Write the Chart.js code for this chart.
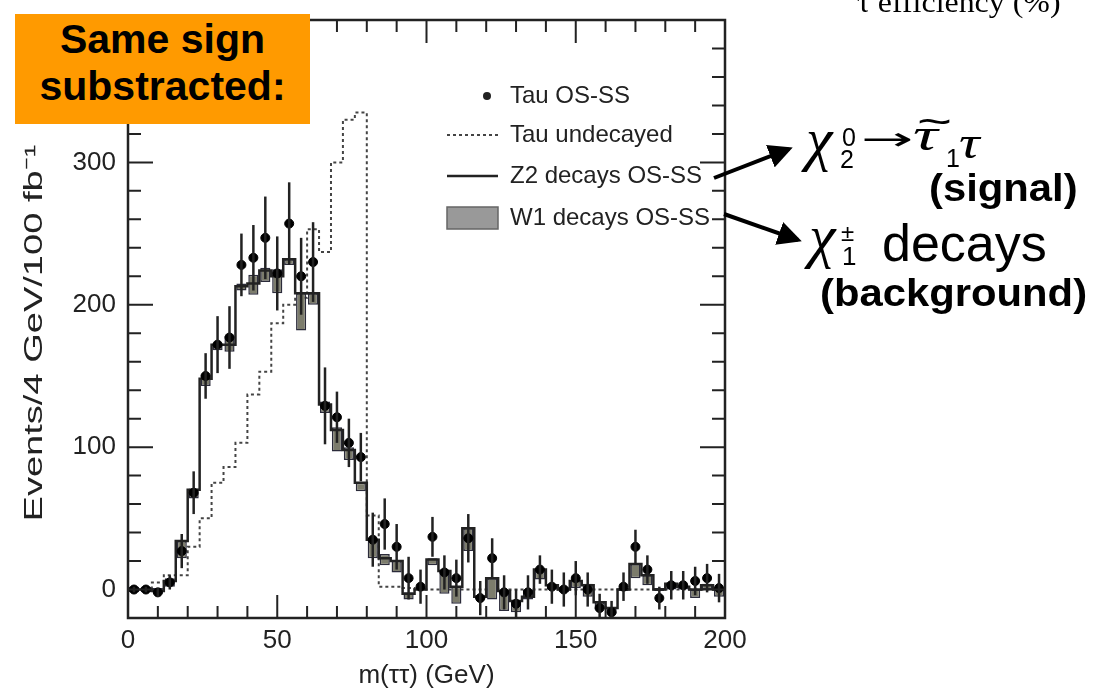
<!DOCTYPE html>
<html>
<head>
<meta charset="utf-8">
<script src="https://cdn.jsdelivr.net/npm/chart.js@4.4.1/dist/chart.umd.min.js"></script>
<style>
  body { margin: 0; background: #fff; }
  #wrap { position: relative; width: 1106px; height: 691px; overflow: hidden; font-family: "Liberation Sans", Arial, sans-serif; }
  #chart { position: absolute; left: 0; top: 0; }
  .note { position: absolute; white-space: nowrap; color: #000; line-height: 1; }
  .serif { font-family: "Liberation Serif", "DejaVu Serif", serif; font-style: italic; }
  #badge { position: absolute; left: 15px; top: 14px; width: 295px; height: 110px; background: #ff9a00;
           font-weight: bold; font-size: 41px; line-height: 47px; text-align: center; padding-top: 2px; box-sizing: border-box; }
  #arrows { position: absolute; left: 0; top: 0; }
</style>
</head>
<body>
<div id="wrap">
  <canvas id="chart" width="1106" height="691"></canvas>

  <div id="badge">Same sign<br>substracted:</div>

  <div class="note" style="left:857px; top:-14px; font: 29px 'Liberation Serif', serif; transform:scaleX(1.1); transform-origin:left;">τ efficiency (%)</div>

  <!-- signal label -->
  <div class="note serif" style="left:806px; top:109px; font-size:60px;">χ</div>
  <div class="note" style="left:842px; top:125px; font-size:25px;">0</div>
  <div class="note" style="left:840px; top:147px; font-size:25px;">2</div>
  <div class="note" style="left:861px; top:123px; font-size:32px; font-family:'DejaVu Sans'; transform:scaleX(1.95); transform-origin:left;">→</div>
  <div class="note serif" style="left:913px; top:112px; font-size:46px; transform:scaleX(1.5); transform-origin:left;">τ</div>
  <div class="note" style="left:917px; top:101px; font-size:40px; transform:scaleX(1.5); transform-origin:left;">~</div>
  <div class="note" style="left:946px; top:146px; font-size:25px;">1</div>
  <div class="note serif" style="left:959px; top:120px; font-size:46px; transform:scaleX(1.25); transform-origin:left;">τ</div>
  <div class="note" style="left:929px; top:169px; font-size:38px; font-weight:bold; transform:scaleX(1.1); transform-origin:left;">(signal)</div>

  <!-- background label -->
  <div class="note serif" style="left:809px; top:206px; font-size:60px;">χ</div>
  <div class="note" style="left:841px; top:221px; font-size:24px;">±</div>
  <div class="note" style="left:842px; top:243px; font-size:26px;">1</div>
  <div class="note" style="left:882px; top:217px; font-size:52px;">decays</div>
  <div class="note" style="left:820px; top:274px; font-size:38px; font-weight:bold; transform:scaleX(1.1); transform-origin:left;">(background)</div>

  <svg id="arrows" width="1106" height="691">
    <defs>
      <marker id="head" markerWidth="6" markerHeight="6" refX="5" refY="3" orient="auto" markerUnits="strokeWidth">
        <path d="M0,0 L6,3 L0,6 z" fill="#000"/>
      </marker>
    </defs>
    <line x1="714" y1="178" x2="789" y2="149" stroke="#000" stroke-width="4" marker-end="url(#head)"/>
    <line x1="724" y1="214" x2="798" y2="240" stroke="#000" stroke-width="4" marker-end="url(#head)"/>
  </svg>
</div>

<script>
// m(tau tau) bins, 4 GeV wide (lower edges)
const binLow = [0, 4, 8, 12, 16, 20, 24, 28, 32, 36, 40, 44, 48, 52, 56, 60, 64, 68, 72, 76,
  80, 84, 88, 92, 96, 100, 104, 108, 112, 116, 120, 124, 128, 132, 136, 140, 144, 148, 152, 156,
  160, 164, 168, 172, 176, 180, 184, 188, 192, 196];
const binWidth = 4;

const z2DecaysOsSs = [0, 0, -1, 6, 34, 70, 148, 172, 172, 213,
  215, 224, 220, 232, 208, 208, 130, 112, 98, 75,
  35, 22, 20, -3, 0, 21, 13, 2, 43, -5,
  8, -1, -8, -5, 14, 3, 0, 6, 3, -9,
  -13, 0, 18, 10, 0, 4, 2, 0, 3, 0];

const w1Low = [-2, -2, -3, 2, 22, 64, 143, 168, 167, 210,
  207, 216, 208, 228, 182, 200, 124, 97, 91, 69,
  22, 17, 12, -7, 0, 17, -3, -10, 27, -7,
  -7, -15, -16, -7, 7, 0, -2, 1, -5, -14,
  -17, -1, 8, 3, -1, 0, 0, -6, 0, -5];
const w1High = [2, 2, 1, 8, 34, 71, 151, 173, 178, 215,
  221, 226, 225, 232, 208, 208, 132, 114, 100, 75,
  35, 25, 20, -2, 2, 22, 13, 2, 43, -4,
  8, -1, -8, 0, 14, 4, 2, 7, 4, -9,
  -13, 1, 18, 10, 1, 5, 3, 0, 4, 1];

const tauOsSs = [0, 0, -2, 5, 27, 68, 150, 172, 177, 228,
  233, 247, 222, 257, 220, 230, 129, 121, 103, 93,
  35, 46, 30, 8, 2, 37, 12, 8, 36, -6,
  22, -2, -10, -2, 14, 2, 0, 8, 0, -13,
  -16, 2, 30, 14, -6, 3, 3, 6, 8, 1];
const tauErr = [2, 2, 3, 5, 12, 15, 16, 20, 22, 22,
  23, 29, 26, 29, 27, 28, 27, 18, 17, 17,
  19, 18, 16, 15, 12, 14, 12, 13, 17, 12,
  14, 12, 10, 12, 10, 12, 12, 12, 12, 10,
  8, 10, 12, 10, 8, 10, 10, 10, 10, 10];

const tauUndecayed = [0, 0, 5, 10, 10, 30, 50, 75, 86, 103,
  137, 153, 187, 200, 205, 253, 237, 300, 330, 335,
  52, 2, 2, 1, 0, 0, 0, 0, 0, 0,
  0, 0, 0, 0, 0, 0, 0, 0, 0, 0,
  0, 0, 0, 0, 0, 0, 0, 0, 0, 0];

const xTickLabels = [0, 50, 100, 150, 200];
const yTickLabels = [0, 100, 200, 300];
const legendLabels = ["Tau OS-SS", "Tau undecayed", "Z2 decays OS-SS", "W1 decays OS-SS"];
const yTitle = "Events/4 GeV/100 fb⁻¹";

const ink = "#222";

function stepPoints(values) {
  const pts = values.map((v, i) => ({ x: binLow[i], y: v }));
  pts.push({ x: binLow[binLow.length - 1] + binWidth, y: values[values.length - 1] });
  return pts;
}

const centers = binLow.map((x) => x + binWidth / 2);

const framePlugin = {
  id: "frame",
  afterDatasetsDraw(chart) {
    const { ctx, scales: { x, y }, chartArea } = chart;
    ctx.save();
    ctx.beginPath();
    ctx.rect(chartArea.left, chartArea.top, chartArea.width, chartArea.height);
    ctx.clip();
    ctx.strokeStyle = ink;
    ctx.lineWidth = 2.5;
    tauOsSs.forEach((v, i) => {
      const px = x.getPixelForValue(centers[i]);
      ctx.beginPath();
      ctx.moveTo(px, y.getPixelForValue(v - tauErr[i]));
      ctx.lineTo(px, y.getPixelForValue(v + tauErr[i]));
      ctx.stroke();
    });
    ctx.restore();
  },
  afterDraw(chart) {
    const { ctx, scales: { x, y }, chartArea: a } = chart;
    ctx.save();
    ctx.strokeStyle = ink;
    ctx.lineWidth = 2.5;
    ctx.strokeRect(a.left, a.top, a.width, a.height);
    ctx.lineWidth = 2;
    ctx.beginPath();
    for (let v = 10; v < 200; v += 10) {
      const len = v % 50 === 0 ? 23 : 12;
      const px = x.getPixelForValue(v);
      ctx.moveTo(px, a.bottom); ctx.lineTo(px, a.bottom - len);
      ctx.moveTo(px, a.top); ctx.lineTo(px, a.top + len);
    }
    for (let v = 0; v < 400; v += 20) {
      const len = v % 100 === 0 ? 25 : 13;
      const py = y.getPixelForValue(v);
      ctx.moveTo(a.left, py); ctx.lineTo(a.left + len, py);
      ctx.moveTo(a.right, py); ctx.lineTo(a.right - len, py);
    }
    ctx.stroke();

    // y axis title, stretched along its length like the original
    ctx.save();
    ctx.font = "26px 'Liberation Sans', Arial, sans-serif";
    ctx.fillStyle = ink;
    ctx.textAlign = "center";
    ctx.textBaseline = "middle";
    ctx.translate(35, 333);
    ctx.rotate(-Math.PI / 2);
    const w = ctx.measureText(yTitle).width;
    ctx.scale(377 / w, 1);
    ctx.fillText(yTitle, 0, 0);
    ctx.restore();

    // legend
    const lx = 447, lw = 51, tx = 510;
    const rows = [96, 135, 176, 218];
    ctx.font = "24px 'Liberation Sans', Arial, sans-serif";
    ctx.fillStyle = ink;
    ctx.textBaseline = "middle";
    legendLabels.forEach((t, i) => ctx.fillText(t, tx, rows[i]));
    ctx.beginPath();
    ctx.arc(487, rows[0], 4, 0, Math.PI * 2);
    ctx.fill();
    ctx.setLineDash([3, 3]);
    ctx.strokeStyle = "#444";
    ctx.beginPath(); ctx.moveTo(lx, rows[1]); ctx.lineTo(lx + lw, rows[1]); ctx.stroke();
    ctx.setLineDash([]);
    ctx.strokeStyle = ink;
    ctx.lineWidth = 2.5;
    ctx.beginPath(); ctx.moveTo(lx, rows[2]); ctx.lineTo(lx + lw, rows[2]); ctx.stroke();
    ctx.fillStyle = "#999";
    ctx.fillRect(lx, rows[3] - 11, lw, 22);
    ctx.strokeStyle = "#666";
    ctx.lineWidth = 1.5;
    ctx.strokeRect(lx, rows[3] - 11, lw, 22);
    ctx.restore();
  },
};

const tickFont = { family: "'Liberation Sans', Arial, sans-serif", size: 26 };

new Chart(document.getElementById("chart"), {
  type: "scatter",
  data: {
    datasets: [
      {
        type: "scatter",
        label: legendLabels[0],
        data: tauOsSs.map((v, i) => ({ x: centers[i], y: v })),
        backgroundColor: "#000",
        borderColor: "#000",
        pointRadius: 4.5,
        order: 0,
      },
      {
        type: "line",
        label: legendLabels[2],
        data: stepPoints(z2DecaysOsSs),
        stepped: true,
        borderColor: ink,
        borderWidth: 2.5,
        pointRadius: 0,
        fill: false,
        order: 1,
      },
      {
        type: "bar",
        label: legendLabels[3],
        data: w1Low.map((lo, i) => ({ x: centers[i], y: [lo, w1High[i]] })),
        backgroundColor: "#7c7c6c",
        borderColor: "#2b2b3a",
        borderWidth: 1.5,
        borderSkipped: false,
        categoryPercentage: 1,
        barPercentage: 0.85,
        order: 2,
      },
      {
        type: "line",
        label: legendLabels[1],
        data: stepPoints(tauUndecayed),
        stepped: true,
        borderColor: "#444",
        borderWidth: 2,
        borderDash: [3, 3],
        pointRadius: 0,
        fill: false,
        order: 3,
      },
    ],
  },
  options: {
    responsive: false,
    animation: false,
    devicePixelRatio: 1,
    layout: { padding: { top: 20, right: 381, left: 0, bottom: 0 } },
    plugins: { legend: { display: false }, tooltip: { enabled: false } },
    scales: {
      x: {
        type: "linear",
        min: 0,
        max: 200,
        offset: false,
        grid: { display: false, drawTicks: false },
        border: { display: false },
        afterBuildTicks: (s) => { s.ticks = xTickLabels.map((v) => ({ value: v })); },
        afterFit: (s) => { s.height = 73; s.paddingLeft = 0; s.paddingRight = 0; },
        ticks: { font: tickFont, color: ink, padding: 7, maxRotation: 0, autoSkip: false },
        title: { display: true, text: "m(ττ) (GeV)", font: { ...tickFont, lineHeight: 1 }, color: ink, padding: { top: 0, bottom: 2 } },
      },
      y: {
        min: -20,
        max: 400,
        grid: { display: false, drawTicks: false },
        border: { display: false },
        afterBuildTicks: (s) => { s.ticks = yTickLabels.map((v) => ({ value: v })); },
        afterFit: (s) => { s.width = 128; s.paddingTop = 0; s.paddingBottom = 0; },
        ticks: { font: tickFont, color: ink, padding: 12 },
      },
    },
  },
  plugins: [framePlugin],
});
</script>
</body>
</html>
